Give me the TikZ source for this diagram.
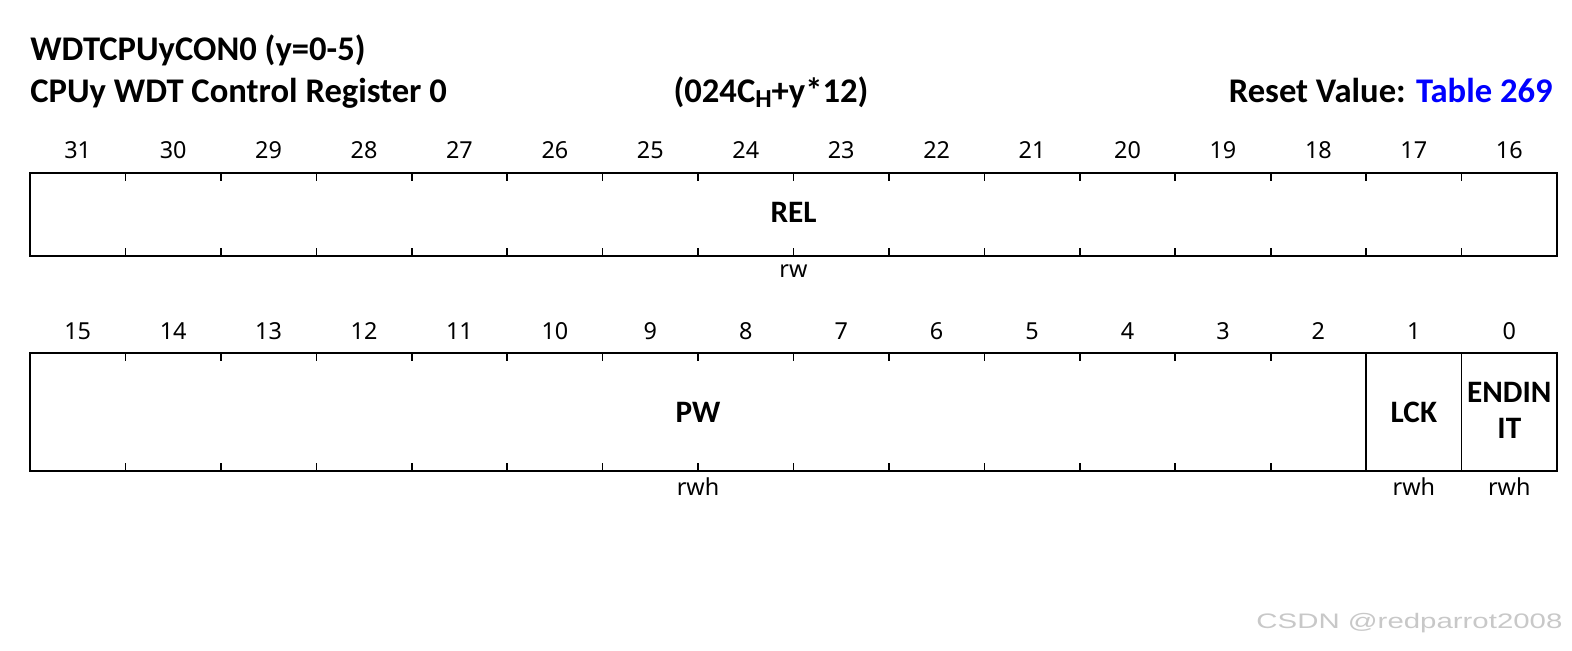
\documentclass[tikz,border=0pt]{standalone}
\usepackage{fontspec}
\setmainfont{Noto Sans}
\newfontfamily\boldfam{Carlito}
\newfontfamily\wmfont{Liberation Sans}
\definecolor{linkblue}{RGB}{0,0,255}
\definecolor{wmgray}{RGB}{200,200,200}
\begin{document}
\begin{tikzpicture}[x=0.5pt,y=-0.5pt,
  regline/.style={line width=0.8pt},
  titletext/.style={font=\boldfam\bfseries\fontsize{17.3}{20}\selectfont, inner sep=0pt},
  bitnum/.style={font=\fontsize{11.7}{14}\selectfont, inner sep=0pt},
  fieldname/.style={font=\boldfam\bfseries\fontsize{15.6}{18}\selectfont, inner sep=0pt, align=center},
  access/.style={font=\fontsize{11.7}{14}\selectfont, inner sep=0pt, anchor=base},
  watermark/.style={font=\wmfont\fontsize{10.5}{12}\selectfont, text=wmgray, inner sep=0pt, anchor=base east, xscale=1.4}]
\useasboundingbox (0,0) rectangle (1572,650);
\def\bw{95.4375}
% titles
\node[titletext, anchor=base west] (t1) at (30,60) {WDTCPUyCON0 (y=0-5)};
\node[titletext, anchor=base west] (t2) at (30,102) {CPUy WDT Control Register 0};
\node[titletext, anchor=base] (addr) at (771,102) {(024C\raisebox{-0.3ex}{\fontsize{13}{14}\selectfont H}+y*12)};
\node[titletext, anchor=base east] (rst) at (1553,102) {Reset Value: \textcolor{linkblue}{Table 269}};
% top register
\draw[regline] (30,173) rectangle (1557,256);
\foreach \i in {1,...,15}{
  \draw[regline] (30+\i*\bw,173) -- (30+\i*\bw,181);
  \draw[regline] (30+\i*\bw,256) -- (30+\i*\bw,248);
}
\foreach \i in {0,...,15}{
  \pgfmathtruncatemacro{\b}{31-\i}
  \node[bitnum] (tb\b) at (30+\i*\bw+0.5*\bw,150) {\b};
}
\node[fieldname] (rel) at (793.5,212.5) {REL};
\node[access] (relacc) at (793.5,277) {rw};
% bottom register
\draw[regline] (30,353) rectangle (1557,471);
\foreach \i in {1,...,13}{
  \draw[regline] (30+\i*\bw,353) -- (30+\i*\bw,361);
  \draw[regline] (30+\i*\bw,471) -- (30+\i*\bw,463);
}
\draw[regline] (30+14*\bw,353) -- (30+14*\bw,471);
\draw[regline] (30+15*\bw,353) -- (30+15*\bw,471);
\foreach \i in {0,...,15}{
  \pgfmathtruncatemacro{\b}{15-\i}
  \node[bitnum] (bb\b) at (30+\i*\bw+0.5*\bw,331) {\b};
}
\node[fieldname] (pw) at (698,412.5) {PW};
\node[fieldname] (lck) at (30+14.5*\bw,412.5) {LCK};
\node[fieldname] (endinit) at (30+15.5*\bw,410) {ENDIN\\[0pt]IT};
\node[access] (pwacc) at (698,495) {rwh};
\node[access] (lckacc) at (30+14.5*\bw,495) {rwh};
\node[access] (endacc) at (30+15.5*\bw,495) {rwh};
% watermark
\node[watermark] (wm) at (1563,628) {CSDN @redparrot2008};
\end{tikzpicture}
\end{document}
